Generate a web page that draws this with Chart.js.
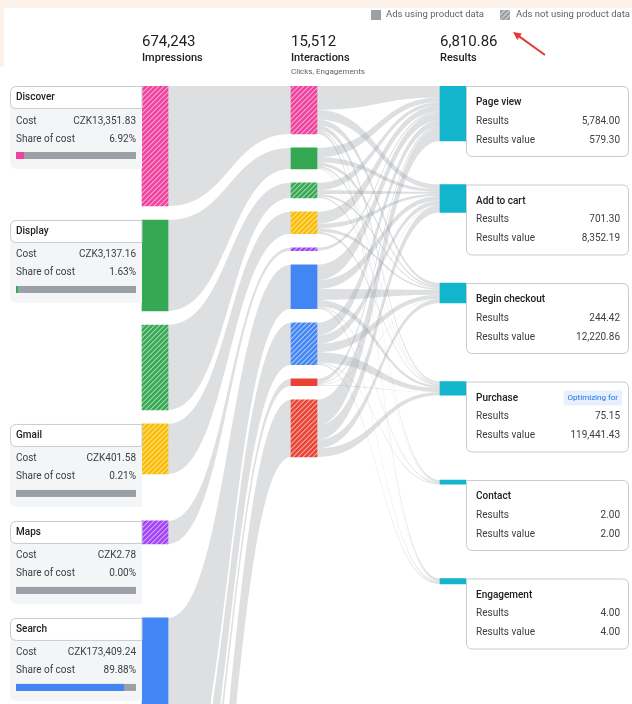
<!DOCTYPE html>
<html>
<head>
<meta charset="utf-8">
<script src="https://cdn.jsdelivr.net/npm/chart.js@4.4.1/dist/chart.umd.min.js"></script>
<style>
  html, body { margin: 0; padding: 0; background: #fff; overflow: hidden; }
  canvas { display: block; }
</style>
</head>
<body>
<canvas id="pathChart" width="632" height="704"></canvas>
<script>
// column headers
const columnLabels = ['Impressions', 'Interactions', 'Results'];
const columnTotals = [674243, 15512, 6810.86];

// ad channels (cards on the left)
const channelLabels = ['Discover', 'Display', 'Gmail', 'Maps', 'Search', 'YouTube'];
const channelCost = [13351.83, 3137.16, 401.58, 2.78, 173409.24, 2631.60];

// each channel split into ads using / not using product data
const segmentChannel = [0, 1, 1, 2, 3, 4, 4, 5, 5];
const segmentHatched = [true, false, true, true, true, false, true, false, true];
const impressions = [109300, 82900, 77400, 45600, 21000, 182200, 54700, 18200, 82943];
const interactions = [2870, 1255, 895, 1315, 180, 2635, 2515, 420, 3427];

// conversion actions
const resultLabels = ['Page view', 'Add to cart', 'Begin checkout', 'Purchase', 'Contact', 'Engagement'];
const resultCounts = [5784.00, 701.30, 244.42, 75.15, 2.00, 4.00];
const resultValues = [579.30, 8352.19, 12220.86, 119441.43, 2.00, 4.00];
const optimizingFor = 'Purchase';

// interactions of each segment that led to each conversion action (estimated)
const flows = [
  [1435, 574, 344, 287, 86, 144],
  [565, 314, 188, 126, 25, 37],
  [448, 224, 134, 89, 0, 0],
  [723, 263, 197, 132, 0, 0],
  [180, 0, 0, 0, 0, 0],
  [922, 527, 659, 395, 53, 79],
  [755, 503, 503, 629, 50, 75],
  [252, 84, 42, 42, 0, 0],
  [1542, 857, 514, 514, 0, 0]
];

// look
const channelColors = ['#f0419e', '#34a853', '#fbbc04', '#a142f4', '#4285f4', '#ea4335'];
const resultColor = '#12b5cb';
const linkColor = 'rgba(160, 165, 171, 0.36)';
const FONT = 'Roboto, "Noto Sans", sans-serif';
const TOP = 86, AREA_H = 704 - 86, NODE_W = 26;
const impPx = 1 / 911;      // px per impression
const intPx = 1 / 59.9;     // px per interaction
const resPx = 3.44;         // px per result size unit
const resSize = v => Math.pow(v, 0.32);

const canvas = document.getElementById('pathChart');
const ctx = canvas.getContext('2d');

function hatch(color) {
  const s = 5;
  const c = document.createElement('canvas');
  c.width = s; c.height = s;
  const g = c.getContext('2d');
  g.fillStyle = color;
  g.fillRect(0, 0, s, s);
  g.strokeStyle = 'rgba(255,255,255,0.55)';
  g.lineWidth = 1.1;
  g.beginPath();
  g.moveTo(0, s); g.lineTo(s, 0);
  g.moveTo(-1, 1); g.lineTo(1, -1);
  g.moveTo(s - 1, s + 1); g.lineTo(s + 1, s - 1);
  g.stroke();
  return ctx.createPattern(c, 'repeat');
}

// stack nodes of a column top-down, leaving room for cards
function stack(sizes, pxPerUnit, gapPx, cardPx) {
  let cur = 0;
  return sizes.map((v, i) => {
    const top = cur, bottom = top + v;
    cur = Math.max(bottom, top + (cardPx[i] || 0) / pxPerUnit) + gapPx / pxPerUnit;
    return [top, bottom];
  });
}

const firstOfChannel = segmentChannel.map((ch, i) => segmentChannel.indexOf(ch) === i);
const col1 = stack(impressions, impPx, 14, firstOfChannel.map(f => f ? 83 : 0));
const col2 = stack(interactions, intPx, 14, []);
const col3 = stack(resultCounts.map(resSize), resPx, 28, resultCounts.map(() => 70.5));

const segFill = segmentChannel.map((ch, i) =>
  segmentHatched[i] ? hatch(channelColors[ch]) : channelColors[ch]);

const datasets = [];
col1.forEach((r, i) => datasets.push({ data: [r, null, null], backgroundColor: segFill[i], yAxisID: 'yImp' }));
col2.forEach((r, i) => datasets.push({ data: [null, r, null], backgroundColor: segFill[i], yAxisID: 'yInt' }));
col3.forEach(r => datasets.push({ data: [null, null, r], backgroundColor: resultColor, yAxisID: 'yRes' }));
datasets.forEach(d => Object.assign(d, { grouped: false, barThickness: NODE_W, borderWidth: 0, borderSkipped: false }));

const fmt = (v, d) => v.toLocaleString('en-US', { minimumFractionDigits: d, maximumFractionDigits: d });
const totalCost = channelCost.reduce((a, b) => a + b, 0);

function rr(c, x, y, w, h, r) {
  const [tl, tr, br, bl] = r;
  c.beginPath();
  c.moveTo(x + tl, y);
  c.lineTo(x + w - tr, y); c.quadraticCurveTo(x + w, y, x + w, y + tr);
  c.lineTo(x + w, y + h - br); c.quadraticCurveTo(x + w, y + h, x + w - br, y + h);
  c.lineTo(x + bl, y + h); c.quadraticCurveTo(x, y + h, x, y + h - bl);
  c.lineTo(x, y + tl); c.quadraticCurveTo(x, y, x + tl, y);
  c.closePath();
}

function ribbon(c, x0, a0, a1, x1, b0, b1) {
  const xm = (x0 + x1) / 2;
  c.beginPath();
  c.moveTo(x0, a0);
  c.bezierCurveTo(xm, a0, xm, b0, x1, b0);
  c.lineTo(x1, b1);
  c.bezierCurveTo(xm, b1, xm, a1, x0, a1);
  c.closePath();
  c.fill();
}

function text(c, s, x, y, font, color, align) {
  c.font = font;
  c.fillStyle = color;
  c.textAlign = align || 'left';
  c.textBaseline = 'middle';
  c.fillText(s, x, y);
}

const sankeyPlugin = {
  id: 'sankey',
  beforeDraw(chart) {
    const c = chart.ctx, xs = chart.scales.x;
    c.save();
    c.fillStyle = '#fff';
    c.fillRect(0, 0, chart.width, chart.height);
    c.fillStyle = '#fdf2e9';
    c.fillRect(0, 0, chart.width, 8);
    c.fillRect(0, 0, 4, 67);

    // legend
    const lf = '9.5px ' + FONT;
    c.font = lf;
    const l2 = 'Ads not using product data', l1 = 'Ads using product data';
    let x = 630 - c.measureText(l2).width;
    text(c, l2, x, 15, lf, '#5f6368');
    c.fillStyle = hatch('#9aa0a6');
    c.fillRect(x - 16, 10, 10, 10);
    c.font = lf;
    x = x - 32 - c.measureText(l1).width;
    text(c, l1, x, 15, lf, '#5f6368');
    c.fillStyle = '#9aa0a6';
    c.fillRect(x - 15, 10, 10, 10);

    // column headers
    columnLabels.forEach((lab, i) => {
      const left = xs.getPixelForValue(i) - NODE_W / 2;
      text(c, fmt(columnTotals[i], i === 2 ? 2 : 0), left, 42, '15px ' + FONT, '#202124');
      text(c, lab, left, 58, '500 11px ' + FONT, '#202124');
    });
    text(c, 'Clicks, Engagements', xs.getPixelForValue(1) - NODE_W / 2, 72, '8px ' + FONT, '#5f6368');
    c.restore();
  },
  beforeDatasetsDraw(chart) {
    const c = chart.ctx, s = chart.scales;
    const cx = [0, 1, 2].map(i => s.x.getPixelForValue(i));
    const h = NODE_W / 2;
    c.save();
    c.fillStyle = linkColor;
    // impressions -> interactions
    col1.forEach((r, i) => {
      ribbon(c, cx[0] + h, s.yImp.getPixelForValue(r[0]), s.yImp.getPixelForValue(r[1]),
        cx[1] - h, s.yInt.getPixelForValue(col2[i][0]), s.yInt.getPixelForValue(col2[i][1]));
    });
    // interactions -> results
    const rowSum = flows.map(r => r.reduce((a, b) => a + b, 0));
    const colSum = resultLabels.map((_, j) => flows.reduce((a, r) => a + r[j], 0));
    const srcCur = col2.map(r => r[0]);
    const tgtCur = col3.map(r => r[0]);
    flows.forEach((row, i) => {
      row.forEach((f, j) => {
        if (!f) return;
        const sw = (col2[i][1] - col2[i][0]) * f / rowSum[i];
        const tw = (col3[j][1] - col3[j][0]) * f / colSum[j];
        ribbon(c, cx[1] + h, s.yInt.getPixelForValue(srcCur[i]), s.yInt.getPixelForValue(srcCur[i] + sw),
          cx[2] - h, s.yRes.getPixelForValue(tgtCur[j]), s.yRes.getPixelForValue(tgtCur[j] + tw));
        srcCur[i] += sw;
        tgtCur[j] += tw;
      });
    });
    c.restore();
  },
  afterDatasetsDraw(chart) {
    const c = chart.ctx, s = chart.scales;
    const left = s.x.getPixelForValue(0) - NODE_W / 2;
    const resLeft = s.x.getPixelForValue(2) + NODE_W / 2;
    c.save();
    // channel cards
    segmentChannel.forEach((ch, i) => {
      if (!firstOfChannel[i]) return;
      const y = s.yImp.getPixelForValue(col1[i][0]);
      const x0 = 10, w = left - x0;
      c.fillStyle = '#f4f5f6';
      rr(c, x0, y + 20, w, 63, [0, 0, 0, 7]);
      c.fill();
      c.fillStyle = '#fff';
      c.strokeStyle = '#c9ccd0';
      c.lineWidth = 1;
      rr(c, x0 + 0.5, y + 0.5, w - 0.5, 22, [6, 0, 0, 6]);
      c.fill();
      c.stroke();
      text(c, channelLabels[ch], x0 + 6, y + 11.5, '500 10px ' + FONT, '#202124');
      const share = channelCost[ch] / totalCost * 100;
      text(c, 'Cost', x0 + 6, y + 35, '10px ' + FONT, '#3c4043');
      text(c, 'CZK' + fmt(channelCost[ch], 2), left - 6, y + 35, '10px ' + FONT, '#3c4043', 'right');
      text(c, 'Share of cost', x0 + 6, y + 53, '10px ' + FONT, '#3c4043');
      text(c, share.toFixed(2) + '%', left - 6, y + 53, '10px ' + FONT, '#3c4043', 'right');
      const bw = w - 12;
      c.fillStyle = '#9aa0a6';
      c.fillRect(x0 + 6, y + 66, bw, 7);
      c.fillStyle = channelColors[ch];
      c.fillRect(x0 + 6, y + 66, Math.round(bw * share / 100), 7);
    });
    // result cards
    resultLabels.forEach((lab, j) => {
      const y = s.yRes.getPixelForValue(col3[j][0]);
      const x0 = resLeft, w = 629 - resLeft;
      c.fillStyle = '#fff';
      c.strokeStyle = '#c9ccd0';
      c.lineWidth = 1;
      rr(c, x0 + 0.5, y + 0.5, w - 1, 70, [0, 6, 6, 6]);
      c.fill();
      c.stroke();
      text(c, lab, x0 + 10, y + 16.5, '500 10px ' + FONT, '#202124');
      text(c, 'Results', x0 + 10, y + 35, '10px ' + FONT, '#3c4043');
      text(c, fmt(resultCounts[j], 2), x0 + w - 9, y + 35, '10px ' + FONT, '#3c4043', 'right');
      text(c, 'Results value', x0 + 10, y + 54, '10px ' + FONT, '#3c4043');
      text(c, fmt(resultValues[j], 2), x0 + w - 9, y + 54, '10px ' + FONT, '#3c4043', 'right');
      if (lab === optimizingFor) {
        c.font = '8px ' + FONT;
        const tw = c.measureText('Optimizing for').width + 8;
        c.fillStyle = '#e8f0fe';
        c.fillRect(x0 + w - 7 - tw, y + 9, tw, 15);
        text(c, 'Optimizing for', x0 + w - 11, y + 16.5, '8px ' + FONT, '#1a73e8', 'right');
      }
    });
    c.restore();
  },
  afterDraw(chart) {
    // red pointer arrow
    const c = chart.ctx;
    const x0 = 545, y0 = 55, x1 = 513, y1 = 32;
    const a = Math.atan2(y1 - y0, x1 - x0);
    c.save();
    c.strokeStyle = '#e53935';
    c.fillStyle = '#e53935';
    c.lineWidth = 2;
    c.beginPath();
    c.moveTo(x0, y0);
    c.lineTo(x1 - 5 * Math.cos(a), y1 - 5 * Math.sin(a));
    c.stroke();
    c.beginPath();
    c.moveTo(x1, y1);
    c.lineTo(x1 - 9 * Math.cos(a - 0.45), y1 - 9 * Math.sin(a - 0.45));
    c.lineTo(x1 - 9 * Math.cos(a + 0.45), y1 - 9 * Math.sin(a + 0.45));
    c.closePath();
    c.fill();
    c.restore();
  }
};

const yAxis = px => ({ type: 'linear', display: false, reverse: true, min: 0, max: AREA_H / px });

new Chart(ctx, {
  type: 'bar',
  data: { labels: columnLabels, datasets },
  options: {
    responsive: false,
    animation: false,
    events: [],
    layout: { padding: { left: 80.5, right: 104.5, top: TOP, bottom: 0 } },
    scales: {
      x: { display: false, offset: true },
      yImp: yAxis(impPx),
      yInt: yAxis(intPx),
      yRes: yAxis(resPx)
    },
    plugins: {
      legend: { display: false },
      tooltip: { enabled: false }
    }
  },
  plugins: [sankeyPlugin]
});
</script>
</body>
</html>
